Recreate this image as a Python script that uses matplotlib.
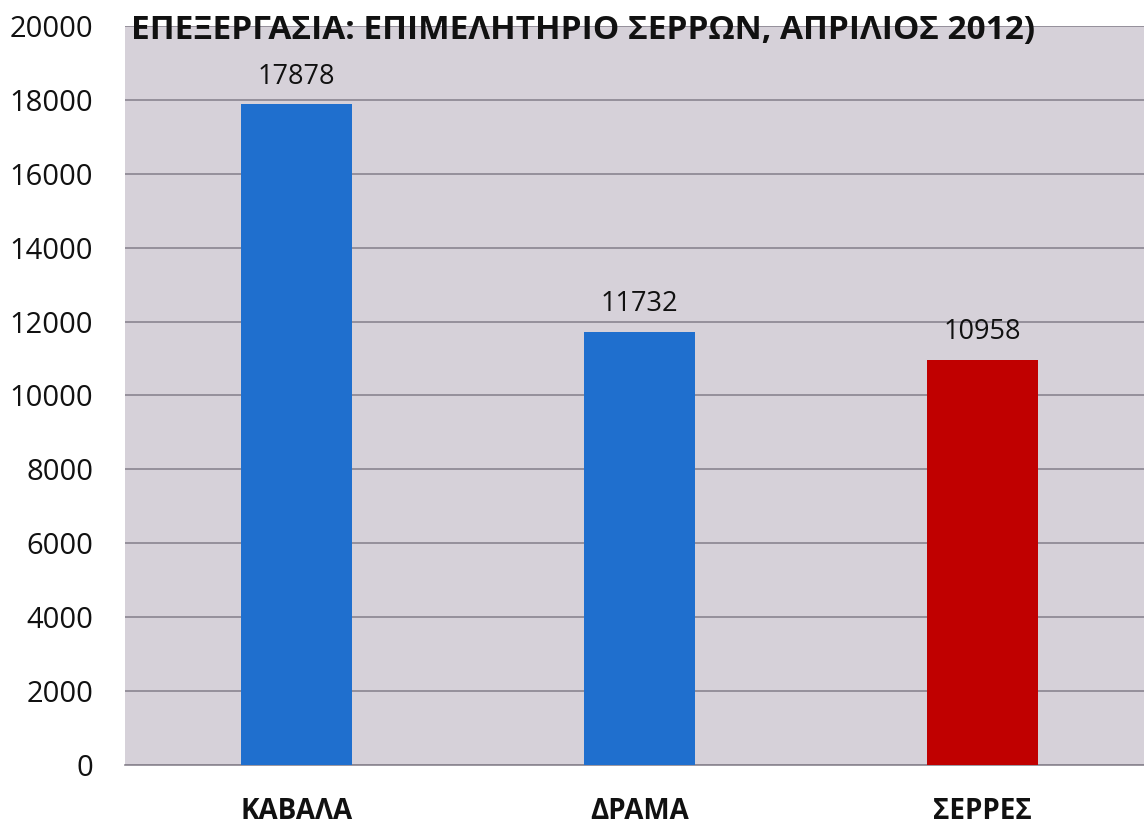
import matplotlib
matplotlib.use("Agg")
import matplotlib.pyplot as plt

categories = ["ΚΑΒΑΛΑ", "ΔΡΑΜΑ", "ΣΕΡΡΕΣ"]
values = [17878, 11732, 10958]
bar_colors = ["#1f6fce", "#1f6fce", "#c00000"]
yticks = list(range(0, 20001, 2000))
title_text = "ΕΠΕΞΕΡΓΑΣΙΑ: ΕΠΙΜΕΛΗΤΗΡΙΟ ΣΕΡΡΩΝ, ΑΠΡΙΛΙΟΣ 2012)"

plt.rcParams['font.family'] = ['Open Sans', 'DejaVu Sans']

W, H = 1144, 827
fig = plt.figure(figsize=(W / 100, H / 100), dpi=100)
fig.patch.set_facecolor("white")
left, right, bottom, top = 125, 1154, 765, 26
ax = fig.add_axes([left / W, (H - bottom) / H, (right - left) / W, (bottom - top) / H])
ax.set_facecolor("#d6d1d9")

x = list(range(len(categories)))
ax.bar(x, values, width=0.325, color=bar_colors, zorder=3)
ax.set_xlim(-0.5, 2.5)
ax.set_ylim(0, 20000)
ax.set_yticks(yticks)
ax.set_yticklabels([str(t) for t in yticks], fontsize=21, color="#111111")
ax.set_xticks(x)
ax.set_xticklabels(categories, fontsize=20, fontweight="bold", color="#111111")
ax.tick_params(axis="y", length=0, pad=23)
ax.tick_params(axis="x", length=0, pad=23)
ax.grid(axis="y", color="#8a8590", linewidth=1.2, zorder=1)
for s in ["top", "right", "left"]:
    ax.spines[s].set_visible(False)
ax.spines["bottom"].set_color("#8a8590")
ax.spines["bottom"].set_linewidth(1.2)

for xi, v in zip(x, values):
    ax.annotate(str(v), (xi, v), xytext=(0, 10), textcoords="offset points",
                ha="center", va="bottom", fontsize=19.5, color="#111111", zorder=4)

fig.text(583 / W, 1 - 30 / H, title_text, ha="center", va="center",
         fontsize=24, fontweight="bold", color="#111111")

fig.savefig("out.png", dpi=100)
